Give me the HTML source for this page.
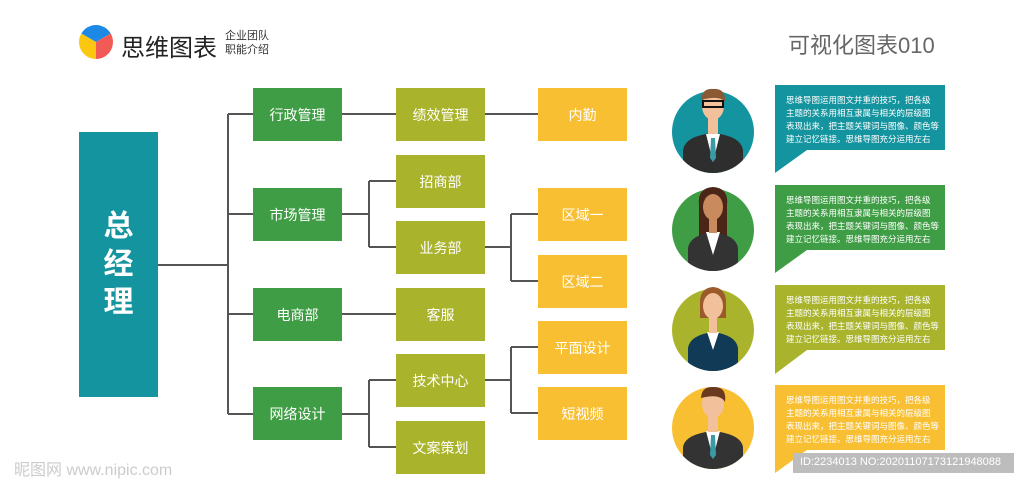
<!DOCTYPE html>
<html><head><meta charset="utf-8"><style>
body{margin:0;width:1024px;height:483px;background:#fff;position:relative;overflow:hidden;font-family:"Liberation Sans","Noto Sans CJK SC",sans-serif}
.b{position:absolute;color:#fff;font-size:14px;display:flex;align-items:center;justify-content:center;width:89px;height:53px}
.g{background:#3f9e45}.o{background:#a9b42c}.y{background:#f8bf33}
.t{position:absolute;left:786px;color:#fff;font-size:8.5px;line-height:13px;white-space:nowrap}
</style></head><body>
<svg width="1024" height="483" style="position:absolute;left:0;top:0">
<path d="M96 42 L81.3 33.5 A17 17 0 0 1 110.7 33.5Z" fill="#1e88e5"/>
<path d="M96 42 L110.7 33.5 A17 17 0 0 1 96 59Z" fill="#f25b55"/>
<path d="M96 42 L96 59 A17 17 0 0 1 81.3 33.5Z" fill="#fbc710"/>
<g stroke="#555" stroke-width="2" fill="none">
<path d="M158 265H228M228 114V414M228 114H253M228 214H253M228 314H253M228 414H253"/>
<path d="M342 114H538M342 314H396"/>
<path d="M342 214H369M369 181V247M369 181H396M369 247H396"/>
<path d="M484 247H511M511 214V281M511 214H538M511 281H538"/>
<path d="M342 414H369M369 380V447M369 380H396M369 447H396"/>
<path d="M484 380H511M511 347V413M511 347H538M511 413H538"/>
</g>
<g>
<path d="M775 85H945V150H807L775 173Z" fill="#13949f"/>
<path d="M775 185H945V250H807L775 273Z" fill="#3f9e45"/>
<path d="M775 285H945V350H807L775 374Z" fill="#a9b42c"/>
<path d="M775 385H945V450H807L775 473Z" fill="#f8bf33"/>
</g>
<defs>
<clipPath id="c1"><circle cx="713" cy="132" r="41"/></clipPath>
<clipPath id="c2"><circle cx="713" cy="230" r="41"/></clipPath>
<clipPath id="c3"><circle cx="713" cy="330" r="41"/></clipPath>
<clipPath id="c4"><circle cx="713" cy="428" r="41"/></clipPath>
</defs>
<g>
<circle cx="713" cy="132" r="41" fill="#13949f"/>
<g clip-path="url(#c1)"><path d="M683 180V150Q685 136 713 133Q741 136 743 150V180Z" fill="#2e2e2e"/><path d="M706 134H720L713 162Z" fill="#fff"/><path d="M711 138H715L716 158L713 162L710 158Z" fill="#3a9aa6"/></g>
<rect x="708" y="118" width="10" height="16" fill="#f2c09a"/><ellipse cx="713" cy="106" rx="11" ry="14" fill="#f2c09a"/><path d="M701 102Q701 88 713 89Q726 88 725 102Q720 95 701 100Z" fill="#8a5a35"/><rect x="703" y="101" width="20" height="6" fill="none" stroke="#111" stroke-width="2"/>
<circle cx="713" cy="230" r="41" fill="#3f9e45"/>
<path d="M699 205Q697 188 713 187Q729 188 727 205V240H699Z" fill="#4a2518"/>
<g clip-path="url(#c2)"><path d="M688 280V248Q690 235 713 232Q736 235 738 248V280Z" fill="#333"/><path d="M706 232H720L713 255Z" fill="#fff"/></g>
<rect x="709" y="218" width="8" height="15" fill="#c98a5e"/><ellipse cx="713" cy="207" rx="10" ry="13" fill="#c98a5e"/>
<circle cx="713" cy="330" r="41" fill="#a9b42c"/>
<path d="M700 305Q699 288 713 287Q727 288 726 305V318H700Z" fill="#9a5a2a"/>
<g clip-path="url(#c3)"><path d="M688 380V348Q690 335 713 332Q736 335 738 348V380Z" fill="#103a55"/><path d="M707 332H719L713 350Z" fill="#fff"/></g>
<rect x="709" y="318" width="8" height="15" fill="#f2c09a"/><ellipse cx="713" cy="306" rx="10" ry="13" fill="#f2c09a"/>
<circle cx="713" cy="428" r="41" fill="#f8bf33"/>
<g clip-path="url(#c4)"><path d="M683 480V447Q685 434 713 431Q741 434 743 447V480Z" fill="#333"/><path d="M706 431H720L713 458Z" fill="#fff"/><path d="M711 435H715L716 455L713 459L710 455Z" fill="#3a9aa6"/></g>
<rect x="708" y="416" width="10" height="16" fill="#f2c09a"/><ellipse cx="713" cy="404" rx="11" ry="14" fill="#f2c09a"/><path d="M701 402Q700 386 713 387Q727 386 725 402Q720 393 701 398Z" fill="#6b3a1e"/>
</g>
<rect x="793" y="453" width="221" height="20" fill="#bdbdbd"/>
</svg>
<div style="position:absolute;left:121px;top:28px;font-size:24px;color:#222;white-space:nowrap">思维图表</div>
<div style="position:absolute;left:225px;top:29px;font-size:11px;line-height:14px;color:#333;white-space:nowrap">企业团队<br>职能介绍</div>
<div style="position:absolute;left:788px;top:28px;font-size:22px;color:#666;white-space:nowrap">可视化图表010</div>
<div style="position:absolute;left:79px;top:132px;width:79px;height:265px;background:#13949f;color:#fff;font-size:30px;font-weight:bold;display:flex;align-items:center;justify-content:center;text-align:center;line-height:38px">总<br>经<br>理</div>
<div class="b g" style="left:253px;top:88px">行政管理</div>
<div class="b g" style="left:253px;top:188px">市场管理</div>
<div class="b g" style="left:253px;top:288px">电商部</div>
<div class="b g" style="left:253px;top:387px">网络设计</div>
<div class="b o" style="left:396px;top:88px">绩效管理</div>
<div class="b o" style="left:396px;top:155px">招商部</div>
<div class="b o" style="left:396px;top:221px">业务部</div>
<div class="b o" style="left:396px;top:288px">客服</div>
<div class="b o" style="left:396px;top:354px">技术中心</div>
<div class="b o" style="left:396px;top:421px">文案策划</div>
<div class="b y" style="left:538px;top:88px">内勤</div>
<div class="b y" style="left:538px;top:188px">区域一</div>
<div class="b y" style="left:538px;top:255px">区域二</div>
<div class="b y" style="left:538px;top:321px">平面设计</div>
<div class="b y" style="left:538px;top:387px">短视频</div>
<div class="t" style="top:94px">思维导图运用图文并重的技巧，把各级<br>主题的关系用相互隶属与相关的层级图<br>表现出来，把主题关键词与图像、颜色等<br>建立记忆链接。思维导图充分运用左右</div>
<div class="t" style="top:194px">思维导图运用图文并重的技巧，把各级<br>主题的关系用相互隶属与相关的层级图<br>表现出来，把主题关键词与图像、颜色等<br>建立记忆链接。思维导图充分运用左右</div>
<div class="t" style="top:294px">思维导图运用图文并重的技巧，把各级<br>主题的关系用相互隶属与相关的层级图<br>表现出来，把主题关键词与图像、颜色等<br>建立记忆链接。思维导图充分运用左右</div>
<div class="t" style="top:394px">思维导图运用图文并重的技巧，把各级<br>主题的关系用相互隶属与相关的层级图<br>表现出来，把主题关键词与图像、颜色等<br>建立记忆链接。思维导图充分运用左右</div>
<div style="position:absolute;left:800px;top:456px;font-size:11px;color:#fff;white-space:nowrap">ID:2234013 NO:20201107173121948088</div>
<div style="position:absolute;left:14px;top:456px;font-size:16px;color:#ccc;white-space:nowrap">昵图网 www.nipic.com</div>
</body></html>
